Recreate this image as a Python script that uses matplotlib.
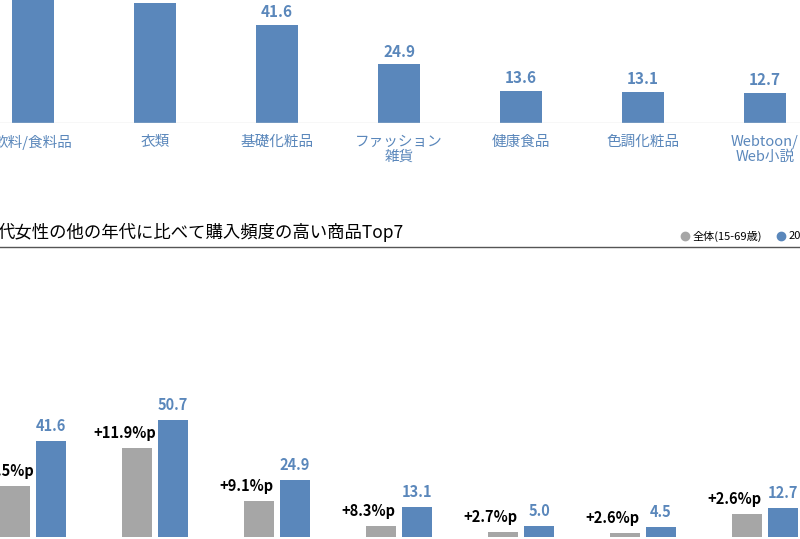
import matplotlib
matplotlib.use("Agg")
import matplotlib.pyplot as plt

plt.rcParams['font.family'] = ['Noto Sans CJK JP', 'DejaVu Sans']

top_cats = ["飲料/食料品", "衣類", "基礎化粧品", "ファッション\n雑貨", "健康食品", "色調化粧品", "Webtoon/\nWeb小説"]
top_vals = [62.0, 50.7, 41.6, 24.9, 13.6, 13.1, 12.7]
bot_all = [22.1, 38.8, 15.8, 4.8, 2.3, 1.9, 10.1]
bot_20s = [41.6, 50.7, 24.9, 13.1, 5.0, 4.5, 12.7]
bot_diff = ["+19.5%p", "+11.9%p", "+9.1%p", "+8.3%p", "+2.7%p", "+2.6%p", "+2.6%p"]

BLUE = "#5a87bb"
GREY = "#a6a6a6"
W, H = 800, 539
fig = plt.figure(figsize=(8, 5.39), dpi=100)
xl = (-33/122, (800-33)/122)

# top panel
ax1 = fig.add_axes([0, (H-123)/H, 1, 123/H])
x = range(len(top_cats))
ax1.bar(x, top_vals, width=42/122, color=BLUE)
ax1.set_xlim(*xl)
ax1.set_ylim(0, 123/2.36)
for i, v in enumerate(top_vals):
    ax1.text(i, v + 2, f"{v}", ha="center", va="bottom", color=BLUE, fontsize=11, fontweight="bold", clip_on=False)
for i, c in enumerate(top_cats):
    ax1.text(i, -5, c, ha="center", va="top", color=BLUE, fontsize=10.5, linespacing=1.1, clip_on=False)
for s in ax1.spines.values():
    s.set_visible(False)
ax1.axhline(0, color="#d9d9d9", lw=1)
ax1.set_xticks([]); ax1.set_yticks([])

# title + rule + legend
fig.text(-0.003, (H-232)/H, "代女性の他の年代に比べて購入頻度の高い商品Top7", fontsize=12.5, va="center", ha="left")
fig.add_artist(plt.Line2D([0, 1], [(H-247)/H]*2, color="#555555", lw=1))
fig.add_artist(plt.Line2D([685/W], [(H-236)/H], marker="o", color=GREY, ms=6))
fig.text(693/W, (H-236)/H, "全体(15-69歳)", fontsize=8, va="center")
fig.add_artist(plt.Line2D([781/W], [(H-236)/H], marker="o", color=BLUE, ms=6))
fig.text(789/W, (H-236)/H, "20", fontsize=8, va="center")

# bottom panel
ax2 = fig.add_axes([0, 2/H, 1, 237/H])
off = 0.148
ax2.bar([i - off for i in x], bot_all, width=30/122, color=GREY)
ax2.bar([i + off for i in x], bot_20s, width=30/122, color=BLUE)
ax2.set_xlim(*xl)
ax2.set_ylim(0, 237/2.3)
for i in x:
    ax2.text(i + off, bot_20s[i] + 3, f"{bot_20s[i]}", ha="center", va="bottom", color=BLUE, fontsize=10.5, fontweight="bold")
    ax2.text(i - off - 0.1, bot_all[i] + 3, bot_diff[i], ha="center", va="bottom", color="black", fontsize=10.5, fontweight="bold")
for s in ax2.spines.values():
    s.set_visible(False)
ax2.set_xticks([]); ax2.set_yticks([])

fig.savefig("out.png", dpi=100)
